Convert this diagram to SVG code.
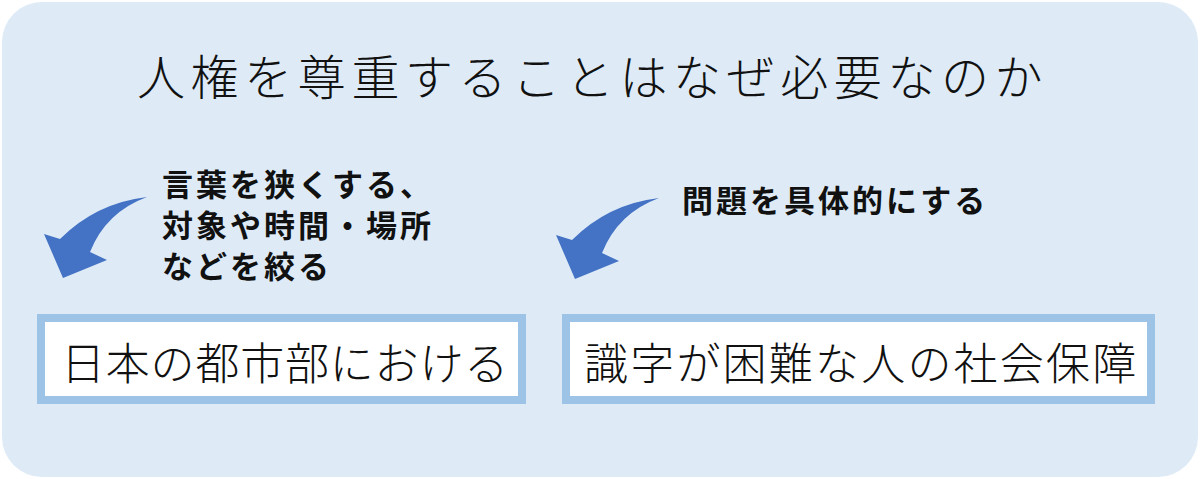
<svg xmlns="http://www.w3.org/2000/svg" width="1200" height="479" viewBox="0 0 1200 479">
<style>
.title{font-family:"Noto Sans CJK JP","Noto Sans CJK SC",sans-serif;font-size:48px;font-weight:300;fill:#111;letter-spacing:5.6px}
.lbl{font-family:"Noto Sans CJK JP","Noto Sans CJK SC",sans-serif;font-size:31px;font-weight:700;fill:#111;letter-spacing:3px}
.box{fill:#ffffff;stroke:#9dc3e6;stroke-width:8}
.boxtxt{font-family:"Noto Sans CJK JP","Noto Sans CJK SC",sans-serif;font-size:44px;font-weight:300;fill:#111}
.arrow{fill:#4472c4}
</style>
<defs>
<path id="curveArrow" d="M147,197 Q96,203 60,239 L44,234 L63,278 L107,260 L90,252 Q106,212 147,197 Z"/>
</defs>
<rect x="0" y="0" width="1200" height="479" fill="#ffffff"/>
<rect x="2" y="2" width="1196" height="475" rx="40" ry="40" fill="#deebf7"/>
<g id="title">
<text class="title" x="137" y="95">人権を尊重することはなぜ必要なのか</text>
</g>
<g id="connectors">
<use href="#curveArrow" class="arrow"/>
<use href="#curveArrow" class="arrow" transform="translate(512,1)"/>
<text class="lbl" x="162" y="196">言葉を狭くする、</text>
<text class="lbl" x="162" y="237">対象や時間・場所</text>
<text class="lbl" x="162" y="278">などを絞る</text>
<text class="lbl" x="682" y="212">問題を具体的にする</text>
</g>
<g id="node-left">
<rect class="box" x="41" y="318" width="481" height="82"/>
<text class="boxtxt" x="61" y="380" letter-spacing="0.8">日本の都市部における</text>
</g>
<g id="node-right">
<rect class="box" x="566" y="318" width="585" height="82"/>
<text class="boxtxt" x="584" y="380" letter-spacing="2.2">識字が困難な人の社会保障</text>
</g>
</svg>
